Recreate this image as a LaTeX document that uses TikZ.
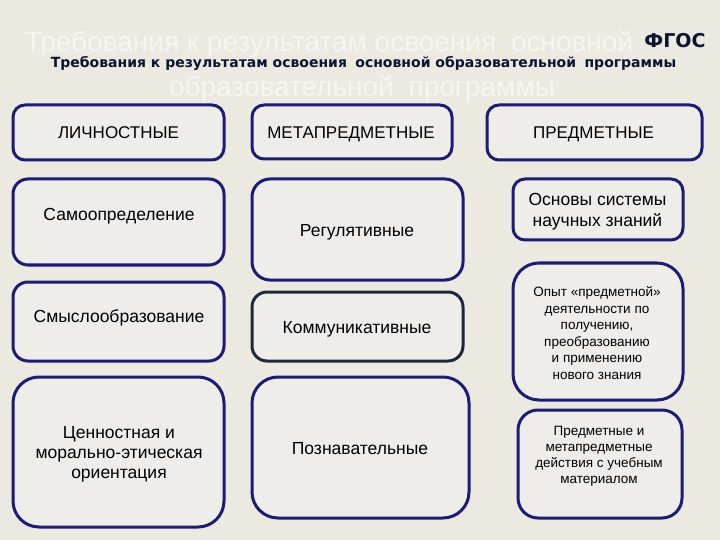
\documentclass[tikz,border=0pt]{standalone}
\usepackage{fontspec}
\setmainfont{Liberation Sans}
\newfontfamily\titlefont{DejaVu Sans}
\definecolor{bgc}{RGB}{236,233,225}
\definecolor{boxfill}{RGB}{238,237,233}
\definecolor{navy}{RGB}{28,28,120}
\definecolor{darkedge}{RGB}{30,40,60}
\definecolor{ghost}{RGB}{246,245,240}
\definecolor{titlec}{RGB}{10,20,50}
\newcommand{\ml}[1]{\begin{tabular}[t]{@{}c@{}}#1\end{tabular}}
\newcommand{\dsp}{\ \hspace{0.25em}}
\tikzset{
  box/.style={draw=navy, line width=3bp, fill=boxfill, rounded corners=#1},
  box/.default=12bp,
  main/.style={anchor=base, inner sep=0pt, font=\fontsize{17.5bp}{20bp}\selectfont},
  head/.style={anchor=base, inner sep=0pt, font=\fontsize{17bp}{20bp}\selectfont},
  small/.style={anchor=base, inner sep=0pt, font=\fontsize{13.5bp}{16.5bp}\selectfont},
  ghosttext/.style={anchor=base, inner sep=0pt, text=ghost, font=\fontsize{28bp}{32bp}\selectfont},
}
\begin{document}
\begin{tikzpicture}[x=1bp, y=-1bp]
\fill[bgc] (0,0) rectangle (720,540);
\useasboundingbox (0,0) rectangle (720,540);
% ghost title
\node[ghosttext] (g1) at (329,52) {Требования к результатам освоения\dsp основной};
\node[ghosttext] (g2) at (362,97) {образовательной\dsp программы};
\node[anchor=base, inner sep=0pt, text=titlec, font=\titlefont\bfseries\fontsize{19bp}{22bp}\selectfont] (fgos) at (675,48) {ФГОС};
\node[anchor=base, inner sep=0pt, text=titlec, font=\titlefont\bfseries\fontsize{14bp}{17bp}\selectfont] (title) at (363.5,68) {Требования к результатам освоения\dsp основной образовательной\dsp программы};
% header boxes
\draw[box] (13,105) rectangle (224,160);
\draw[box] (252,105) rectangle (452,159);
\draw[box] (487,105) rectangle (702,160);
\node[head] (h1) at (118.5,139) {ЛИЧНОСТНЫЕ};
\node[head] (h2) at (351,139) {МЕТАПРЕДМЕТНЫЕ};
\node[head] (h3) at (593.5,139) {ПРЕДМЕТНЫЕ};
% column 1
\draw[box=15bp] (13,179) rectangle (224,265);
\draw[box=15bp] (13,282) rectangle (224,361);
\draw[box=26bp] (13,377) rectangle (224,527);
\node[main] (a1) at (119,221) {Самоопределение};
\node[main] (a2) at (119,322) {Смыслообразование};
\node[main] (a3) at (119,438) {\ml{Ценностная и\\морально-этическая\\ориентация}};
% column 2
\draw[box=18bp] (252,179) rectangle (463,280);
\draw[box=15bp, draw=darkedge] (252,292) rectangle (463,361);
\draw[box=26bp] (252,377) rectangle (469,518);
\node[main] (b1) at (357,237) {Регулятивные};
\node[main] (b2) at (357,333) {Коммуникативные};
\node[main] (b3) at (360,454) {Познавательные};
% column 3
\draw[box=12bp] (513,179) rectangle (683,240);
\draw[box=26bp] (513,263) rectangle (683,400);
\draw[box=20bp] (518,410) rectangle (682,518);
\node[main, font=\fontsize{17.5bp}{21bp}\selectfont] (c1) at (597.5,206) {\ml{Основы системы\\научных знаний}};
\node[small] (c2) at (597,296.7) {\ml{Опыт «предметной»\\деятельности по\\получению,\\преобразованию\\и применению\\нового знания}};
\node[small, font=\fontsize{13.5bp}{16.2bp}\selectfont] (c3) at (599,435) {\ml{Предметные и\\метапредметные\\действия с учебным\\материалом}};
\end{tikzpicture}
\end{document}
